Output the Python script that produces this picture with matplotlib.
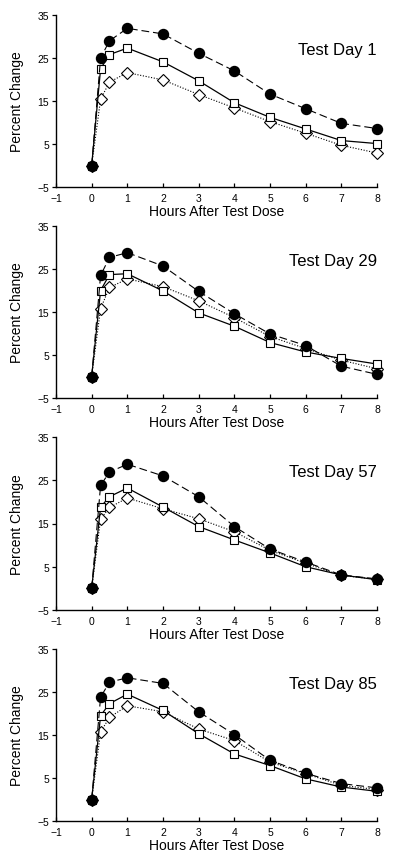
import numpy as np
import matplotlib
matplotlib.use("Agg")
import matplotlib.pyplot as plt

plt.rcParams['font.family'] = ['Liberation Sans', 'DejaVu Sans']

hours = [0, 0.25, 0.5, 1, 2, 3, 4, 5, 6, 7, 8]
day_labels = ['Test Day 1', 'Test Day 29', 'Test Day 57', 'Test Day 85']

# filled circles (dashed line)
circ_d1 = [0, 25.0, 29.0, 31.9, 30.6, 26.1, 22.0, 16.6, 13.2, 9.8, 8.6]
circ_d29 = [0, 23.5, 27.7, 28.8, 25.7, 19.8, 14.6, 9.9, 7.2, 2.4, 0.5]
circ_d57 = [0, 23.8, 26.9, 28.7, 26.0, 21.2, 14.3, 9.1, 6.1, 3.1, 2.2]
circ_d85 = [0, 23.8, 27.3, 28.3, 27.0, 20.4, 15.1, 9.1, 6.1, 3.7, 2.7]

# open squares (solid line)
sq_d1 = [0, 22.5, 25.8, 27.3, 24.1, 19.7, 14.6, 11.2, 8.5, 5.8, 5.1]
sq_d29 = [0, 20.0, 23.7, 23.9, 19.9, 14.8, 11.7, 7.9, 5.7, 4.2, 2.9]
sq_d57 = [0, 18.8, 21.2, 23.2, 18.8, 14.3, 11.2, 8.2, 5.0, 3.1, 2.0]
sq_d85 = [0, 19.5, 22.3, 24.5, 20.7, 15.3, 10.6, 7.9, 4.8, 2.9, 1.9]

# open diamonds (dotted line)
dia_d1 = [0, 15.4, 19.4, 21.6, 19.9, 16.5, 13.4, 10.2, 7.5, 4.7, 2.9]
dia_d29 = [0, 15.8, 20.7, 22.7, 20.9, 17.6, 13.7, 9.3, 6.5, 3.8, 1.8]
dia_d57 = [0, 16.0, 18.7, 20.9, 18.4, 16.1, 13.1, 8.8, 5.8, 3.0, 2.1]
dia_d85 = [0, 15.7, 19.1, 21.8, 20.4, 16.4, 13.7, 8.7, 6.0, 3.3, 2.3]

circles = [circ_d1, circ_d29, circ_d57, circ_d85]
squares = [sq_d1, sq_d29, sq_d57, sq_d85]
diamonds = [dia_d1, dia_d29, dia_d57, dia_d85]

W, H = 396, 853
fig = plt.figure(figsize=(W / 100, H / 100), dpi=100)

# axes top / bottom in pixels
panel_px = [(16, 188), (227, 399), (438, 611), (650, 822)]
left_px, right_px = 56, 377

for i, (top, bot) in enumerate(panel_px):
    ax = fig.add_axes([left_px / W, 1 - bot / H, (right_px - left_px) / W, (bot - top) / H])

    ax.plot(hours, diamonds[i], color='black', lw=0.8, ls=(0, (1, 1.5)),
            marker='D', ms=5.8, mfc='white', mec='black', mew=0.8, clip_on=False, zorder=3)
    ax.plot(hours, squares[i], color='black', lw=0.9, ls='-',
            marker='s', ms=6.2, mfc='white', mec='black', mew=0.8, clip_on=False, zorder=4)
    ax.plot(hours, circles[i], color='black', lw=0.8, ls=(0, (7, 3.5)),
            marker='o', ms=7.2, mfc='black', mec='black', clip_on=False, zorder=5)

    ax.set_xlim(-1, 8)
    ax.set_ylim(-5, 35)
    ax.set_xticks(range(-1, 9))
    ax.set_yticks([-5, 5, 15, 25, 35])

    for s in ['top', 'right']:
        ax.spines[s].set_visible(False)
    for s in ['left', 'bottom']:
        ax.spines[s].set_linewidth(1.0)

    ax.tick_params(axis='x', direction='in', length=3, width=0.9, pad=4, labelsize=7.5)
    ax.tick_params(axis='y', direction='out', length=3, width=0.9, pad=2, labelsize=7.5)

    ax.set_ylabel('Percent Change', fontsize=10)
    ax.yaxis.set_label_coords(-0.1, 0.5)
    ax.set_xlabel('Hours After Test Dose', fontsize=10)
    ax.xaxis.set_label_coords(0.5, -0.1)
    ax.xaxis.label.set_va('top')

    ax.text(1.0, 0.775, day_labels[i], transform=ax.transAxes,
            ha='right', va='baseline', fontsize=12)

fig.savefig('out.png', dpi=100)
